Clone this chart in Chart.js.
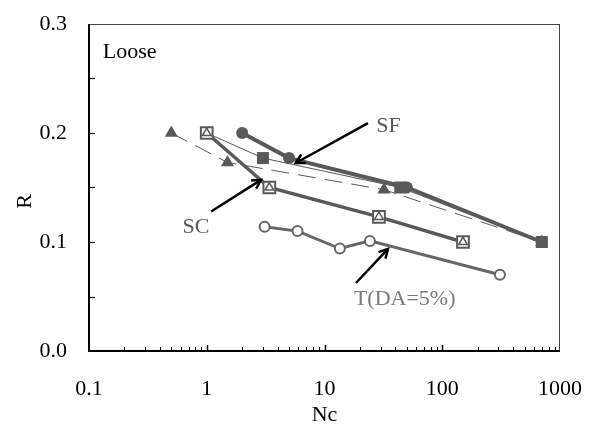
<!DOCTYPE html>
<html><head><meta charset="utf-8">
<script src="https://cdn.jsdelivr.net/npm/chart.js@4/dist/chart.umd.min.js"></script>
<style>html,body{margin:0;padding:0;background:#fff}#wrap{width:595px;height:434px}</style>
</head><body><div id="wrap"><canvas id="c" width="595" height="434"></canvas></div>
<script>
// ---- data ----
const xTicks = [0.1, 1, 10, 100, 1000];
const yTicks = [0, 0.1, 0.2, 0.3];
const sfX = [2, 5, 50, 700],        sfY = [0.2, 0.177, 0.15, 0.1];
const sqX = [1, 3, 44, 700],        sqY = [0.2, 0.177, 0.15, 0.1];
const triX = [0.5, 1.5, 32, 700],   triY = [0.2, 0.173, 0.148, 0.1];
const scX = [1, 3.4, 29, 150],      scY = [0.2, 0.15, 0.123, 0.1];
const tX = [3.1, 5.9, 13.5, 24.3, 309], tY = [0.114, 0.11, 0.094, 0.101, 0.07];
// annotation labels: text, label position, arrow tail, arrow head (data units)
const noteText = ['SF', 'SC', 'T(DA=5%)'];
const noteLabel = [[35, 0.206], [0.81, 0.114], [48, 0.0477]];
const noteTail = [[23.4, 0.209], [1.09, 0.128], [18.5, 0.0624]];
const noteHead = [[5.7, 0.1725], [2.89, 0.157], [34.6, 0.0936]];
const noteColor = ['#5a5a5a', '#5a5a5a', '#7a7a7a'];
const panelLabel = 'Loose', panelPos = [0.131, 0.274];
const xTitle = 'Nc', yTitle = 'R';

const pts = (xs, ys) => xs.map((x, i) => ({x: x, y: ys[i]}));
const FONT = '"Liberation Serif", "Times New Roman", serif';
const G = '#595959';

const overlay = {
  id: 'overlay',
  beforeDatasetsDraw(chart) {
    const {ctx, chartArea: a, scales: {x, y}} = chart;
    ctx.save();
    // frame
    ctx.strokeStyle = '#444'; ctx.lineWidth = 1;
    ctx.beginPath(); ctx.moveTo(a.left, a.top + 0.5); ctx.lineTo(a.right, a.top + 0.5);
    ctx.moveTo(a.right - 0.5, a.top); ctx.lineTo(a.right - 0.5, a.bottom); ctx.stroke();
    ctx.strokeStyle = '#000'; ctx.lineWidth = 2;
    ctx.beginPath(); ctx.moveTo(a.left, a.top); ctx.lineTo(a.left, a.bottom);
    ctx.lineTo(a.right, a.bottom); ctx.stroke();
    // y ticks inward
    ctx.lineWidth = 1.2;
    for (let k = 1; k < 6; k++) {
      const py = Math.round(y.getPixelForValue(k * 0.05)) + 0.5;
      ctx.beginPath(); ctx.moveTo(a.left, py); ctx.lineTo(a.left + 6, py); ctx.stroke();
    }
    // x ticks inward
    for (let d = 0; d < xTicks.length - 1; d++) {
      for (let k = 1; k <= 9; k++) {
        const v = xTicks[d] * k;
        if (k === 1 && d === 0) continue;
        const px = Math.round(x.getPixelForValue(v)) + 0.5;
        const len = k === 1 ? 6 : 4;
        ctx.lineWidth = k === 1 ? 1.5 : 1;
        ctx.beginPath(); ctx.moveTo(px, a.bottom); ctx.lineTo(px, a.bottom - len); ctx.stroke();
      }
    }
    ctx.restore();
  },
  afterDatasetsDraw(chart) {
    const {ctx, chartArea: a, scales: {x, y}} = chart;
    ctx.save();
    ctx.font = '22px ' + FONT;
    ctx.textBaseline = 'middle';
    // panel label
    ctx.fillStyle = '#000'; ctx.textAlign = 'left';
    ctx.fillText(panelLabel, x.getPixelForValue(panelPos[0]), y.getPixelForValue(panelPos[1]));
    // notes + arrows
    ctx.textAlign = 'center';
    noteText.forEach((t, i) => {
      ctx.fillStyle = noteColor[i];
      ctx.fillText(t, x.getPixelForValue(noteLabel[i][0]), y.getPixelForValue(noteLabel[i][1]));
      const x0 = x.getPixelForValue(noteTail[i][0]), y0 = y.getPixelForValue(noteTail[i][1]);
      const x1 = x.getPixelForValue(noteHead[i][0]), y1 = y.getPixelForValue(noteHead[i][1]);
      const ang = Math.atan2(y1 - y0, x1 - x0);
      ctx.strokeStyle = '#000'; ctx.lineWidth = 2.5; ctx.lineCap = 'butt';
      ctx.beginPath(); ctx.moveTo(x0, y0); ctx.lineTo(x1, y1); ctx.stroke();
      const h = 10, sp = 0.5;
      ctx.beginPath();
      ctx.moveTo(x1 - h * Math.cos(ang - sp), y1 - h * Math.sin(ang - sp));
      ctx.lineTo(x1, y1);
      ctx.lineTo(x1 - h * Math.cos(ang + sp), y1 - h * Math.sin(ang + sp));
      ctx.stroke();
    });
    // axis titles
    ctx.fillStyle = '#000';
    ctx.fillText(xTitle, (a.left + a.right) / 2, 415);
    ctx.translate(25, (a.top + a.bottom) / 2 + 14);
    ctx.rotate(-Math.PI / 2);
    ctx.fillText(yTitle, 0, 0);
    ctx.restore();
  }
};

new Chart(document.getElementById('c'), {
  type: 'scatter',
  data: {
    datasets: [
      {data: pts(scX, scY), showLine: false, pointStyle: 'triangle', pointRadius: 5,
       pointBackgroundColor: '#fff', pointBorderColor: G, pointBorderWidth: 1.5},
      {data: pts(scX, scY), showLine: true, borderColor: G, borderWidth: 3.5, pointStyle: 'rect',
       pointRadius: 8.3, pointBackgroundColor: '#fff', pointBorderColor: G, pointBorderWidth: 2},
      {data: pts(sqX, sqY), showLine: true, borderColor: G, borderWidth: 1, pointStyle: 'rect',
       pointRadius: 8.5, pointBackgroundColor: G, pointBorderColor: G, pointBorderWidth: 0},
      {data: pts(sfX, sfY), showLine: true, borderColor: G, borderWidth: 4, pointStyle: 'circle',
       pointRadius: 6, pointBackgroundColor: G, pointBorderColor: G, pointBorderWidth: 0},
      {data: pts(triX, triY), showLine: true, borderColor: G, borderWidth: 1, borderDash: [18, 9],
       pointStyle: 'triangle', pointRadius: 7.5, pointBackgroundColor: G, pointBorderColor: G, pointBorderWidth: 0},
      {data: pts(tX, tY), showLine: true, borderColor: '#666', borderWidth: 3, pointStyle: 'circle',
       pointRadius: 5, pointBackgroundColor: '#fff', pointBorderColor: '#666', pointBorderWidth: 2}
    ]
  },
  options: {
    responsive: false, animation: false, devicePixelRatio: 1,
    layout: {padding: {top: 24, right: 35, left: 0, bottom: 0}},
    plugins: {legend: {display: false}, tooltip: {enabled: false}},
    elements: {line: {tension: 0}},
    scales: {
      x: {
        type: 'logarithmic', position: 'bottom', min: 0.1, max: 1000,
        grid: {display: false, drawTicks: false}, border: {display: false},
        afterBuildTicks: s => { s.ticks = xTicks.map(v => ({value: v})); },
        afterFit: s => { s.height = 83; s.paddingLeft = 0; s.paddingRight = 0; },
        ticks: {autoSkip: false, maxRotation: 0, padding: 25, color: '#000',
                font: {family: FONT, size: 22}, callback: v => String(v)}
      },
      y: {
        type: 'linear', min: 0, max: 0.3,
        grid: {display: false, drawTicks: false}, border: {display: false},
        afterBuildTicks: s => { s.ticks = yTicks.map(v => ({value: v})); },
        afterFit: s => { s.width = 89; s.paddingTop = 0; s.paddingBottom = 0; },
        ticks: {padding: 22, color: '#000', font: {family: FONT, size: 22},
                callback: v => Number(v).toFixed(1)}
      }
    }
  },
  plugins: [overlay]
});
</script></body></html>
